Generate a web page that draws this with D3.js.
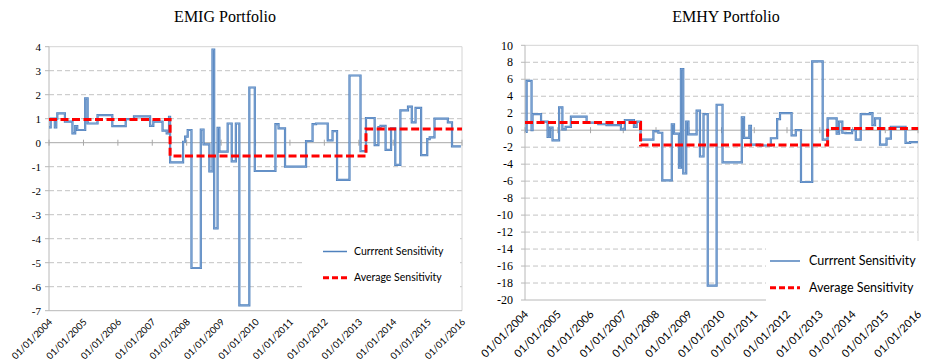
<!DOCTYPE html>
<html>
<head>
<meta charset="utf-8">
<script src="https://cdn.jsdelivr.net/npm/d3@7"></script>
<style>
    body {margin: 0; background: #fff;}
</style>
</head>
<body>
<svg id="mainsvg" width="927" height="363"></svg>
<script>
// EMIG current sensitivity, step values [date the level starts, level]
const emigCurrent = [
    ["2004-01-01", 0.64], ["2004-01-19", 1.0], ["2004-03-03", 0.64], ["2004-03-18", 1.0],
    ["2004-03-29", 1.22], ["2004-06-18", 0.875], ["2004-09-06", 0.39], ["2004-10-05", 0.69],
    ["2004-10-27", 0.53], ["2005-01-19", 1.85], ["2005-02-14", 0.8], ["2005-05-30", 1.15],
    ["2005-11-03", 0.69], ["2006-03-25", 0.98], ["2006-06-21", 1.1], ["2006-12-09", 0.7],
    ["2007-01-12", 0.88], ["2007-04-20", 0.5], ["2007-06-03", 0.39], ["2007-06-28", 1.08],
    ["2007-07-09", -0.82], ["2007-11-24", 0.04], ["2007-12-16", 0.25], ["2008-01-12", 0.53],
    ["2008-02-21", -5.22], ["2008-05-30", 0.55], ["2008-06-28", -0.07], ["2008-08-29", -1.2],
    ["2008-10-01", 3.88], ["2008-10-19", -3.57], ["2008-11-24", 0.62], ["2008-12-13", -0.37],
    ["2009-03-11", 0.8], ["2009-04-23", -0.78], ["2009-06-06", 0.8], ["2009-07-13", -6.78],
    ["2009-10-27", 2.3], ["2009-12-24", -1.18], ["2010-07-31", 0.77], ["2010-09-02", 0.6],
    ["2010-11-10", -1.0], ["2011-06-21", 0.07], ["2011-08-29", 0.77], ["2011-10-05", 0.8],
    ["2012-02-06", 0.1], ["2012-03-28", 0.48], ["2012-05-15", -1.55], ["2012-09-24", 2.8],
    ["2013-01-19", -0.35], ["2013-03-18", 1.03], ["2013-06-18", -0.1], ["2013-07-28", 0.65],
    ["2013-08-19", 0.7], ["2013-10-12", -0.3], ["2013-12-09", 0.6], ["2014-01-23", -0.92],
    ["2014-03-18", 1.35], ["2014-06-07", 1.5], ["2014-07-17", 0.85], ["2014-08-26", 1.45],
    ["2014-10-24", -0.52], ["2014-12-28", 0.15], ["2015-01-23", 0.22], ["2015-03-15", 1.0],
    ["2015-08-04", 0.85], ["2015-09-17", -0.15], ["2015-12-20", -0.15]
];
const emigAverage = [
    ["2004-01-01", 0.97], ["2007-07-09", -0.55], ["2013-03-18", 0.57], ["2016-01-01", 0.57]
];
// EMHY current sensitivity
const emhyCurrent = [
    ["2004-01-12", -0.2], ["2004-01-19", 5.8], ["2004-03-14", 0.0], ["2004-03-25", 1.9],
    ["2004-06-28", 1.0], ["2004-09-09", -0.8], ["2004-10-05", 0.3], ["2004-11-03", -1.2],
    ["2005-01-15", 2.7], ["2005-02-21", 0.1], ["2005-03-29", 0.4], ["2005-05-27", 1.6],
    ["2005-11-18", 0.9], ["2006-03-29", 0.7], ["2006-06-28", 0.6], ["2006-12-06", 0.1],
    ["2007-01-19", 1.2], ["2007-04-30", 0.4], ["2007-05-30", 1.0], ["2007-07-13", -1.1],
    ["2007-12-03", -0.1], ["2008-01-27", -0.3], ["2008-03-11", -5.9], ["2008-06-25", 0.7],
    ["2008-07-20", -0.4], ["2008-09-13", -4.4], ["2008-10-05", 7.2], ["2008-10-31", -5.1],
    ["2008-12-03", 1.0], ["2008-12-28", -0.5], ["2009-03-29", 2.3], ["2009-05-05", -3.1],
    ["2009-06-14", 1.9], ["2009-07-31", -18.3], ["2009-11-07", 3.0], ["2010-01-12", -3.8],
    ["2010-08-15", 1.5], ["2010-09-09", -0.9], ["2010-11-07", 0.5], ["2010-11-25", -1.7],
    ["2011-03-07", -1.8], ["2011-07-05", -0.95], ["2011-09-13", 1.3], ["2011-10-15", 2.0],
    ["2012-02-21", -0.6], ["2012-04-08", 0.0], ["2012-06-05", -6.1], ["2012-10-08", 8.1],
    ["2013-02-02", -1.1], ["2013-03-29", 1.4], ["2013-07-08", -0.4], ["2013-08-04", 1.0],
    ["2013-09-09", -0.3], ["2013-10-15", -0.35], ["2013-12-27", 0.0], ["2014-02-06", -1.1],
    ["2014-04-02", 1.9], ["2014-07-13", 2.0], ["2014-08-11", 0.6], ["2014-09-09", 1.4],
    ["2014-11-03", -1.7], ["2015-01-15", -1.0], ["2015-03-04", 0.4], ["2015-08-15", -1.5],
    ["2015-10-05", -1.4], ["2016-01-01", -1.4]
];
const emhyAverage = [
    ["2004-01-01", 0.9], ["2007-07-13", -1.75], ["2013-03-29", 0.2], ["2016-01-01", 0.2]
];
const yearTicks = d3.range(2004, 2017);
const emigYTicks = d3.range(-7, 5);
const emhyYTicks = d3.range(-20, 11, 2);
const legendLabels = ["Currrent Sensitivity", "Average Sensitivity"];

let svg = d3.select("#mainsvg");
let parseDate = d3.utcParse("%Y-%m-%d");
let fmtDate = d3.utcFormat("%d/%m/%Y");

let drawPanel = function(cfg) {
    let g = svg.append("g");
    let x = d3.scaleUtc()
        .domain([Date.UTC(2004, 0, 1), Date.UTC(2016, 0, 1)])
        .range([cfg.left, cfg.right]);
    let y = d3.scaleLinear()
        .domain(d3.extent(cfg.yTicks))
        .range([cfg.bottom, cfg.top]);
    let [ymin, ymax] = y.domain();

    // title
    g.append("text")
        .attr("x", cfg.titleX).attr("y", 22)
        .attr("text-anchor", "middle")
        .style("font-family", "'Liberation Serif', 'Times New Roman', serif")
        .style("font-size", "16px")
        .text(cfg.title);

    // dashed grid
    g.selectAll(".grid").data(cfg.yTicks.filter(d => d !== 0 && d !== ymin && d !== ymax))
        .enter().append("line")
        .attr("x1", cfg.left).attr("x2", cfg.right)
        .attr("y1", d => y(d)).attr("y2", d => y(d))
        .attr("stroke", "#c3c3c3").attr("stroke-dasharray", "5,3");

    // frame
    g.append("path")
        .attr("d", `M${cfg.left},${cfg.top}H${cfg.right}V${cfg.bottom}`)
        .attr("fill", "none").attr("stroke", "#d4d4d4");
    g.append("path")
        .attr("d", `M${cfg.left},${cfg.top}V${cfg.bottom}H${cfg.right}`)
        .attr("fill", "none").attr("stroke", "#b8b8b8");
    g.selectAll(".ytick").data(cfg.yTicks)
        .enter().append("line")
        .attr("x1", cfg.left - 4).attr("x2", cfg.left)
        .attr("y1", d => y(d)).attr("y2", d => y(d))
        .attr("stroke", "#b8b8b8");

    // legend box hides the grid behind it
    g.append("rect")
        .attr("x", cfg.legend.x).attr("y", cfg.legend.y)
        .attr("width", cfg.legend.w).attr("height", cfg.legend.h)
        .attr("fill", "#fff");

    // zero line with year ticks
    g.append("line")
        .attr("x1", cfg.left).attr("x2", cfg.right)
        .attr("y1", y(0)).attr("y2", y(0))
        .attr("stroke", "#a8a8a8");
    g.selectAll(".xtick").data(yearTicks)
        .enter().append("line")
        .attr("x1", d => x(Date.UTC(d, 0, 1))).attr("x2", d => x(Date.UTC(d, 0, 1)))
        .attr("y1", y(0) - 3).attr("y2", y(0) + 3)
        .attr("stroke", "#a8a8a8");

    // y labels
    g.selectAll(".ylab").data(cfg.yTicks)
        .enter().append("text")
        .attr("x", cfg.left - cfg.yLabGap).attr("y", d => y(d))
        .attr("dy", "0.35em")
        .attr("text-anchor", "end")
        .style("font-family", "'Liberation Serif', 'Times New Roman', serif")
        .style("font-size", cfg.yFont)
        .text(d => d);

    // x labels
    g.selectAll(".xlab").data(yearTicks)
        .enter().append("text")
        .attr("transform", d => `translate(${x(Date.UTC(d, 0, 1)) + 4},${cfg.bottom + cfg.xLabGap}) rotate(-45)`)
        .attr("text-anchor", "end")
        .style("font-family", "Lato, 'Open Sans', sans-serif")
        .style("font-size", cfg.xFont)
        .text(d => fmtDate(new Date(Date.UTC(d, 0, 1))));

    let line = d3.line()
        .x(d => x(parseDate(d[0])))
        .y(d => y(d[1]))
        .curve(d3.curveStepAfter);

    // current sensitivity: slightly hollow blue line
    g.append("path").datum(cfg.current)
        .attr("d", line)
        .attr("fill", "none").attr("stroke", "#4f81bd").attr("stroke-width", 2.2);
    g.append("path").datum(cfg.current)
        .attr("d", line)
        .attr("fill", "none").attr("stroke", "#a9c3e6").attr("stroke-width", 0.5);
    // average sensitivity
    g.append("path").datum(cfg.average)
        .attr("d", line)
        .attr("fill", "none").attr("stroke", "#ff0000").attr("stroke-width", 3)
        .attr("stroke-dasharray", "8,3.5");

    // legend entries
    let lg = cfg.legend;
    g.append("line")
        .attr("x1", lg.sx).attr("x2", lg.sx + lg.sw)
        .attr("y1", lg.ry[0]).attr("y2", lg.ry[0])
        .attr("stroke", "#4f81bd").attr("stroke-width", 1.5);
    g.append("line")
        .attr("x1", lg.sx).attr("x2", lg.sx + lg.sw)
        .attr("y1", lg.ry[1]).attr("y2", lg.ry[1])
        .attr("stroke", "#ff0000").attr("stroke-width", 3)
        .attr("stroke-dasharray", "6,3");
    g.selectAll(".leglab").data(legendLabels)
        .enter().append("text")
        .attr("x", lg.tx).attr("y", (d, i) => lg.ry[i])
        .attr("dy", "0.35em")
        .style("font-family", "Lato, 'Open Sans', sans-serif")
        .style("font-size", lg.font)
        .text(d => d);
};

drawPanel({
    title: "EMIG Portfolio", titleX: 225,
    left: 49, right: 462, top: 46.7, bottom: 310.7,
    yTicks: emigYTicks, yLabGap: 8, yFont: "11px", xFont: "9.5px", xLabGap: 12,
    current: emigCurrent, average: emigAverage,
    legend: {x: 305, y: 223, w: 155, h: 78, sx: 323, sw: 24, tx: 354, ry: [251.5, 277.7], font: "10.5px"}
});
drawPanel({
    title: "EMHY Portfolio", titleX: 726,
    left: 525, right: 918, top: 45.3, bottom: 300,
    yTicks: emhyYTicks, yLabGap: 12, yFont: "12px", xFont: "11px", xLabGap: 15,
    current: emhyCurrent, average: emhyAverage,
    legend: {x: 766, y: 241, w: 160, h: 64, sx: 770, sw: 30, tx: 809, ry: [261, 287.7], font: "12.5px"}
});
</script>
</body>
</html>
